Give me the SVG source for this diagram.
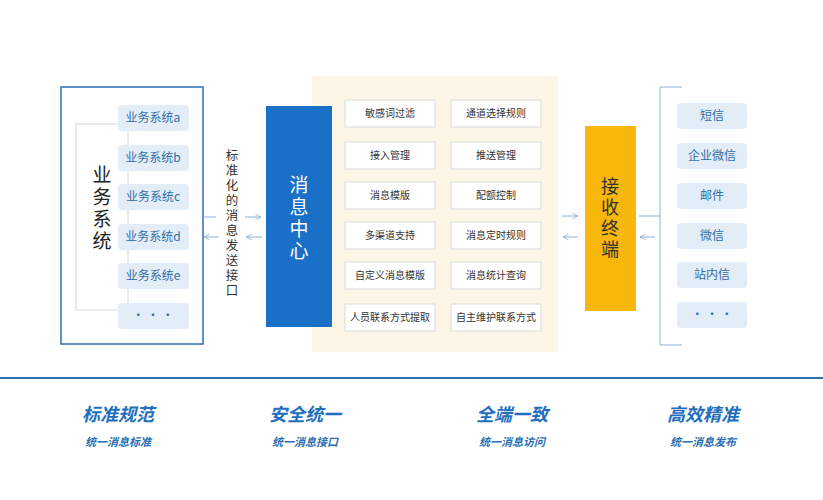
<svg xmlns="http://www.w3.org/2000/svg" width="823" height="500" viewBox="0 0 823 500">
<defs>
<style>
text{font-family:"Noto Sans CJK SC","Liberation Sans",sans-serif;}
.pill{fill:#e3edf7;}
.pt{font-size:12px;fill:#2f6ea8;text-anchor:middle;}
.gb{fill:#fff;stroke:#d9d9d9;stroke-width:1;}
.gt{font-size:10px;fill:#333;text-anchor:middle;}
.ln{stroke:#8fb0d0;stroke-width:1;fill:none;}
.vt{font-size:12.5px;fill:#333;text-anchor:middle;}
.bt{font-size:18px;font-weight:bold;font-style:italic;fill:#1f6fbf;text-anchor:middle;}
.bs{font-size:11px;font-weight:bold;font-style:italic;fill:#2a6fb5;text-anchor:middle;}
</style>
<marker id="ah" viewBox="0 0 10 10" refX="9" refY="5" markerWidth="7" markerHeight="7" orient="auto-start-reverse"><path d="M1,1 L9,5 L1,9" fill="none" stroke="#8fb0d0" stroke-width="1.2"/></marker>
</defs>
<rect width="823" height="500" fill="#fff"/>
<rect x="312" y="76" width="246" height="276" fill="#fdf6e6"/>
<g id="biz">
<rect x="61" y="87" width="142" height="257" fill="#fff" stroke="#2f6fb0" stroke-width="1.5"/>
<rect x="76" y="124" width="52" height="186" fill="none" stroke="#d0d8e0" stroke-width="1"/>
<text font-size="19" fill="#222" text-anchor="middle"><tspan x="102" y="182">业</tspan><tspan x="102" y="204">务</tspan><tspan x="102" y="226">系</tspan><tspan x="102" y="248">统</tspan></text>
<rect class="pill" x="118" y="105" width="71" height="26" rx="4"/><text class="pt" x="153" y="122">业务系统a</text>
<rect class="pill" x="118" y="145" width="71" height="26" rx="4"/><text class="pt" x="153" y="162">业务系统b</text>
<rect class="pill" x="118" y="184" width="71" height="26" rx="4"/><text class="pt" x="153" y="201">业务系统c</text>
<rect class="pill" x="118" y="224" width="71" height="26" rx="4"/><text class="pt" x="153" y="241">业务系统d</text>
<rect class="pill" x="118" y="263" width="71" height="26" rx="4"/><text class="pt" x="153" y="280">业务系统e</text>
<rect class="pill" x="118" y="303" width="71" height="26" rx="4"/><text class="pt" x="153" y="320">· · ·</text>
</g>
<g id="iface">
<text class="vt"><tspan x="232" y="160">标</tspan><tspan x="232" y="175">准</tspan><tspan x="232" y="190">化</tspan><tspan x="232" y="205">的</tspan><tspan x="232" y="220">消</tspan><tspan x="232" y="235">息</tspan><tspan x="232" y="250">发</tspan><tspan x="232" y="265">送</tspan><tspan x="232" y="280">接</tspan><tspan x="232" y="295">口</tspan></text>
</g>
<g id="center">
<rect x="266" y="106" width="66" height="221" fill="#1a6fc6"/>
<text font-size="19" fill="#fff" text-anchor="middle"><tspan x="299" y="192">消</tspan><tspan x="299" y="214">息</tspan><tspan x="299" y="236">中</tspan><tspan x="299" y="258">心</tspan></text>
</g>
<g id="features">
<rect class="gb" x="345" y="100" width="90" height="27"/><text class="gt" x="390" y="117">敏感词过滤</text>
<rect class="gb" x="451" y="100" width="90" height="27"/><text class="gt" x="496" y="117">通道选择规则</text>
<rect class="gb" x="345" y="142" width="90" height="27"/><text class="gt" x="390" y="159">接入管理</text>
<rect class="gb" x="451" y="142" width="90" height="27"/><text class="gt" x="496" y="159">推送管理</text>
<rect class="gb" x="345" y="182" width="90" height="27"/><text class="gt" x="390" y="199">消息模版</text>
<rect class="gb" x="451" y="182" width="90" height="27"/><text class="gt" x="496" y="199">配额控制</text>
<rect class="gb" x="345" y="222" width="90" height="27"/><text class="gt" x="390" y="239">多渠道支持</text>
<rect class="gb" x="451" y="222" width="90" height="27"/><text class="gt" x="496" y="239">消息定时规则</text>
<rect class="gb" x="345" y="262" width="90" height="27"/><text class="gt" x="390" y="279">自定义消息模版</text>
<rect class="gb" x="451" y="262" width="90" height="27"/><text class="gt" x="496" y="279">消息统计查询</text>
<rect class="gb" x="345" y="304" width="90" height="27"/><text class="gt" x="390" y="321">人员联系方式提取</text>
<rect class="gb" x="451" y="304" width="90" height="27"/><text class="gt" x="496" y="321">自主维护联系方式</text>
</g>
<g id="terminal">
<rect x="585" y="126" width="51" height="185" fill="#f8b70a"/>
<text font-size="18" fill="#333" text-anchor="middle"><tspan x="610" y="193">接</tspan><tspan x="610" y="214">收</tspan><tspan x="610" y="235">终</tspan><tspan x="610" y="256">端</tspan></text>
</g>
<g id="channels">
<path class="ln" d="M682,87 H660 V345 H682" stroke-width="1.2"/>
<rect class="pill" x="677" y="103" width="70" height="26" rx="4"/><text class="pt" x="712" y="120">短信</text>
<rect class="pill" x="677" y="143" width="70" height="26" rx="4"/><text class="pt" x="712" y="160">企业微信</text>
<rect class="pill" x="677" y="183" width="70" height="26" rx="4"/><text class="pt" x="712" y="200">邮件</text>
<rect class="pill" x="677" y="223" width="70" height="26" rx="4"/><text class="pt" x="712" y="240">微信</text>
<rect class="pill" x="677" y="262" width="70" height="26" rx="4"/><text class="pt" x="712" y="279">站内信</text>
<rect class="pill" x="677" y="302" width="70" height="26" rx="4"/><text class="pt" x="712" y="319">· · ·</text>
</g>
<g id="connectors">
<line class="ln" x1="203" y1="217" x2="216" y2="217"/>
<line class="ln" x1="245" y1="217" x2="261" y2="217" marker-end="url(#ah)"/>
<line class="ln" x1="219" y1="237" x2="204" y2="237" marker-end="url(#ah)"/>
<line class="ln" x1="262" y1="237" x2="246" y2="237" marker-end="url(#ah)"/>
<line class="ln" x1="562" y1="216" x2="578" y2="216" marker-end="url(#ah)"/>
<line class="ln" x1="578" y1="237" x2="563" y2="237" marker-end="url(#ah)"/>
<line class="ln" x1="639" y1="216" x2="660" y2="216"/>
<line class="ln" x1="655" y1="237" x2="640" y2="237" marker-end="url(#ah)"/>
</g>
<line x1="0" y1="378" x2="823" y2="378" stroke="#2b6ea8" stroke-width="2"/>
<g id="footer">
<text class="bt" x="118" y="421">标准规范</text><text class="bs" x="118" y="446">统一消息标准</text>
<text class="bt" x="305" y="421">安全统一</text><text class="bs" x="305" y="446">统一消息接口</text>
<text class="bt" x="512" y="421">全端一致</text><text class="bs" x="512" y="446">统一消息访问</text>
<text class="bt" x="703" y="421">高效精准</text><text class="bs" x="703" y="446">统一消息发布</text>
</g>
</svg>
